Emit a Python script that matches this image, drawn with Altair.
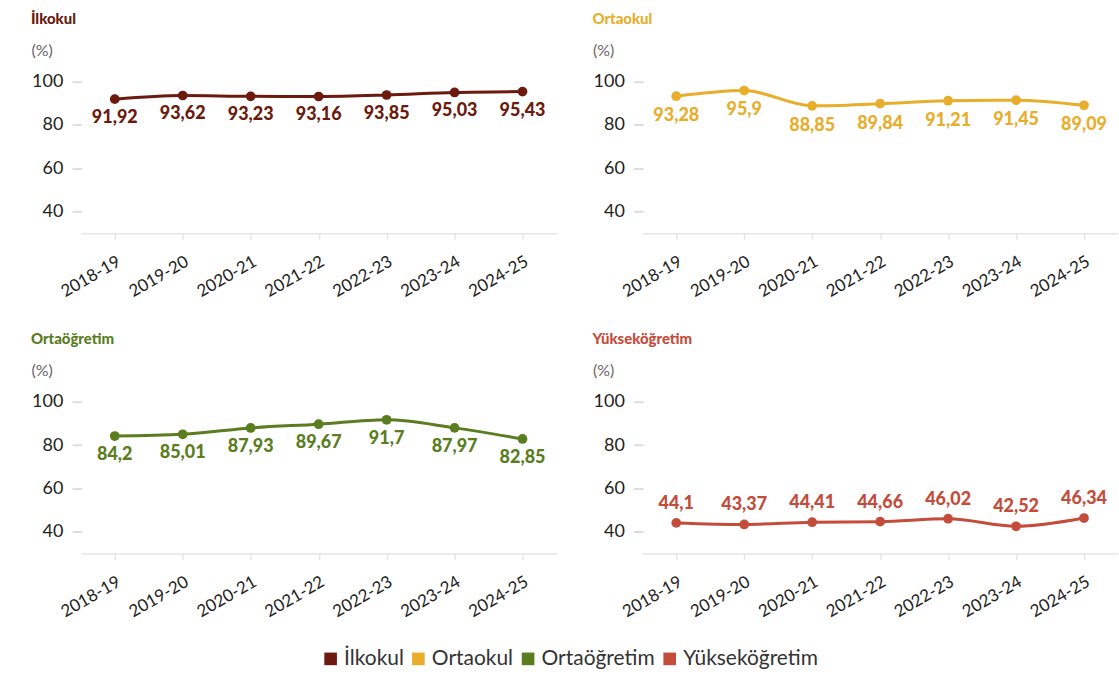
import altair as alt
import pandas as pd

years = ["2018-19", "2019-20", "2020-21", "2021-22", "2022-23", "2023-24", "2024-25"]
levels = ["İlkokul", "Ortaokul", "Ortaöğretim", "Yükseköğretim"]
colors = ["#6b1a0d", "#e8ae2b", "#5a7d1f", "#c44c3b"]

ilkokul = [91.92, 93.62, 93.23, 93.16, 93.85, 95.03, 95.43]
ortaokul = [93.28, 95.9, 88.85, 89.84, 91.21, 91.45, 89.09]
ortaogretim = [84.2, 85.01, 87.93, 89.67, 91.7, 87.97, 82.85]
yuksekogretim = [44.1, 43.37, 44.41, 44.66, 46.02, 42.52, 46.34]

series = [ilkokul, ortaokul, ortaogretim, yuksekogretim]
# labels sit below the line, except for higher education where they sit above
label_dy = [19, 20, 19, -19]

rows = []
for lvl, vals in zip(levels, series):
    for yr, v in zip(years, vals):
        rows.append({"yil": yr, "kademe": lvl, "oran": v,
                     "etiket": f"{v:g}".replace(".", ",")})
df = pd.DataFrame(rows)

FONT = "Lato"

color_scale = alt.Scale(domain=levels, range=colors)


def panel(lvl, color, dy):
    base = alt.Chart(df).transform_filter(alt.datum.kademe == lvl).encode(
        x=alt.X("yil:N", sort=years,
                scale=alt.Scale(type="point", padding=0.5),
                axis=alt.Axis(title=None, labelAngle=-30, labelAlign="right",
                              labelBaseline="top", labelFontSize=17,
                              labelColor="#222", labelPadding=14,
                              domainColor="#e6e6e6", domainWidth=1.5,
                              tickColor="#e6e6e6", tickSize=6, tickWidth=1.5)),
        y=alt.Y("oran:Q",
                scale=alt.Scale(domain=[30, 100], nice=False, zero=False),
                axis=alt.Axis(values=[40, 60, 80, 100], title="(%)",
                              titleAngle=0, titleAlign="left",
                              titleBaseline="middle", titleX=-50, titleY=-31,
                              titleColor="#666", titleFontSize=16,
                              titleFontWeight="normal",
                              labelFontSize=18, labelColor="#222",
                              labelPadding=10, domain=False,
                              tickColor="#dddddd", tickSize=8, tickWidth=2,
                              tickCap="round", grid=False)),
    )
    line = base.mark_line(interpolate="monotone", strokeWidth=3, color=color)
    pts = base.mark_circle(size=95, opacity=1).encode(
        color=alt.Color("kademe:N", scale=color_scale, title=None,
                        legend=alt.Legend(orient="none", direction="horizontal",
                                          legendX=240, legendY=568,
                                          symbolType="square", symbolSize=160,
                                          labelFontSize=21, labelColor="#333",
                                          columnPadding=4, labelOffset=3))
    )
    halo = base.mark_text(dy=dy, fontSize=18, fontWeight=900, font=FONT,
                          stroke="white", strokeWidth=4, strokeJoin="round",
                          color="white").encode(text="etiket:N")
    txt = base.mark_text(dy=dy, fontSize=18, fontWeight=900, font=FONT,
                         color=color).encode(text="etiket:N")
    return alt.layer(line, pts, halo, txt).properties(
        width=477, height=152,
        title=alt.TitleParams(lvl, color=color, anchor="start", fontSize=15,
                              fontWeight=900, font=FONT, offset=16),
    )


top = alt.hconcat(panel(levels[0], colors[0], label_dy[0]),
                  panel(levels[1], colors[1], label_dy[1]), spacing=34)
bottom = alt.hconcat(panel(levels[2], colors[2], label_dy[2]),
                     panel(levels[3], colors[3], label_dy[3]), spacing=34)

chart = alt.vconcat(top, bottom, spacing=30).properties(
    padding={"left": 30, "top": 10, "right": 0, "bottom": 0}
).configure(font=FONT).configure_view(stroke="transparent")

chart.save("out.html", embed_options={"renderer": "svg", "actions": False})
